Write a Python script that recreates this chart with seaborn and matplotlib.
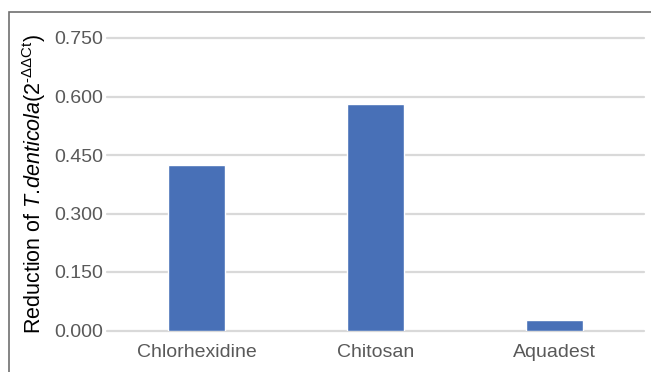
import matplotlib
matplotlib.use("Agg")
import matplotlib.pyplot as plt
import seaborn as sns
import pandas as pd
from matplotlib.patches import Rectangle

categories = ["Chlorhexidine", "Chitosan", "Aquadest"]
values = [0.424, 0.581, 0.027]
yticks = [0.0, 0.15, 0.30, 0.45, 0.60, 0.75]
ytick_labels = ["0.000", "0.150", "0.300", "0.450", "0.600", "0.750"]

sns.set_theme(style="white")
plt.rcParams["font.family"] = ["Liberation Sans", "DejaVu Sans"]
plt.rcParams["mathtext.fontset"] = "custom"
plt.rcParams["mathtext.rm"] = "Liberation Sans"
plt.rcParams["mathtext.it"] = "Liberation Sans:italic"
plt.rcParams["mathtext.bf"] = "Liberation Sans:bold"

W, H = 651, 372
fig = plt.figure(figsize=(W / 100, H / 100), dpi=100)
ax = fig.add_axes([107 / W, (H - 330.5) / H, (644 - 107) / W, (330.5 - 38) / H])

df = pd.DataFrame({"cat": categories, "val": values})
sns.barplot(data=df, x="cat", y="val", color="#4870B7", saturation=1,
            width=0.32, ax=ax, zorder=3)

ax.set_xlim(-0.5, 2.5)
ax.set_ylim(0, 0.75)
ax.set_yticks(yticks)
ax.set_yticklabels(ytick_labels)
for y in yticks:
    ax.axhline(y, color="#D9D9D9", lw=1.6, zorder=1, clip_on=False)

for s in ax.spines.values():
    s.set_visible(False)
ax.tick_params(axis="both", length=0, colors="#595959", labelsize=14)
ax.tick_params(axis="y", pad=3)
ax.tick_params(axis="x", pad=10)
ax.set_xlabel("")
ax.set_ylabel(r"Reduction of $\mathit{T.\!denticola}$(2$^{\text{-ΔΔCt}}$)",
              fontsize=15.5, color="#000000", labelpad=4)

fig.patches.append(Rectangle((9 / W, -0.1), 1.2, (H - 12) / H + 0.1,
                             transform=fig.transFigure, fill=False,
                             edgecolor="#707070", lw=1.2))

fig.savefig("out.png", dpi=100)
